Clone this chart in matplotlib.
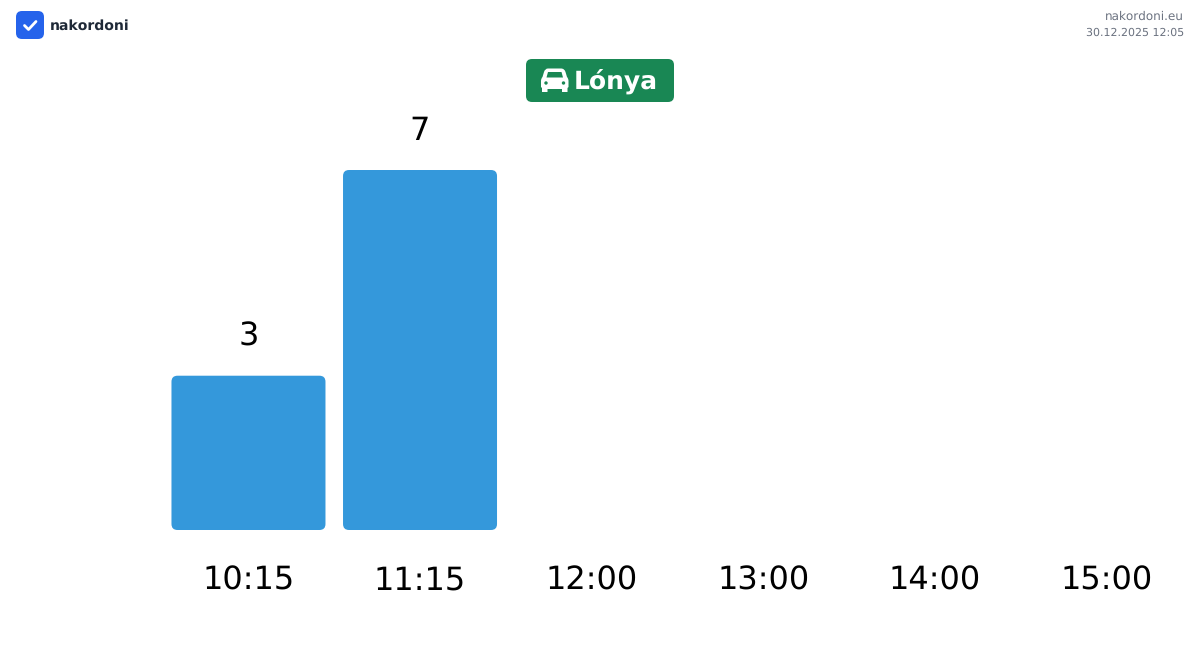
import matplotlib
matplotlib.use('Agg')
import matplotlib.pyplot as plt
from matplotlib.patches import FancyBboxPatch, PathPatch, Circle
from matplotlib.path import Path

times = ['10:15', '11:15', '12:00', '13:00', '14:00', '15:00']
counts = [3, 7, 0, 0, 0, 0]
crossing = 'Lónya'
brand = 'nakordoni'
site = 'nakordoni.eu'
stamp = '30.12.2025 12:05'

W, H = 1200, 651
BAR = '#3498db'

plt.rcParams['font.family'] = ['DejaVu Sans']
plt.rcParams['text.hinting'] = 'no_hinting'
plt.rcParams['text.hinting_factor'] = 1
fig = plt.figure(figsize=(W / 100, H / 100), dpi=100, facecolor='white')

# chart area, band for each time is about 171.7px wide
left, right, top, bottom = 162.7, 1192, 170, 530
ax = fig.add_axes([left / W, 1 - bottom / H, (right - left) / W, (bottom - top) / H])
ax.set_xlim(-0.5, len(times) - 0.5)
ax.set_ylim(0, max(counts))
ax.patch.set_alpha(0)
for s in ax.spines.values():
    s.set_visible(False)
ax.set_yticks([])
ax.set_xticks(range(len(times)), times)
ax.tick_params(axis='x', length=0, pad=43.2, labelsize=23, labelcolor='black')
for lab in ax.get_xticklabels():
    lab.set_verticalalignment('baseline')

x_px = (right - left) / len(times)
y_px = (bottom - top) / max(counts)
bar_w = 154 / x_px
for i, v in enumerate(counts):
    if v == 0:
        continue
    # rounded corners, mutation_aspect keeps the radius the same in px
    ax.add_patch(FancyBboxPatch((i - bar_w / 2, 0), bar_w, v,
                                boxstyle='round,pad=0,rounding_size=%f' % (6 / x_px),
                                mutation_aspect=x_px / y_px,
                                fc=BAR, ec='none', clip_on=False))
    ax.annotate(str(v), (i, v), xytext=(0, 30 * 0.72), textcoords='offset points',
                ha='center', va='baseline', fontsize=23, color='black', annotation_clip=False)

# header and badge drawn in pixel coordinates
ov = fig.add_axes([0, 0, 1, 1])
ov.set_xlim(0, W)
ov.set_ylim(H, 0)
ov.axis('off')
ov.patch.set_alpha(0)

ov.add_patch(FancyBboxPatch((16, 11), 28, 28, boxstyle='round,pad=0,rounding_size=6',
                            fc='#2563eb', ec='none'))
ov.plot([24.5, 28.5, 36], [25.5, 29.5, 21.5], color='white', lw=2.0,
        solid_capstyle='round', solid_joinstyle='round')
ov.text(50, 25.5, brand, fontsize=10.1, fontweight='bold', color='#1f2937', ha='left', va='center')
ov.text(1184, 17, site, fontsize=8.6, color='#6b7280', ha='right', va='center')
ov.text(1184, 33, stamp, fontsize=8.0, color='#6b7280', ha='right', va='center')

ov.add_patch(FancyBboxPatch((526, 59), 148, 43, boxstyle='round,pad=0,rounding_size=6',
                            fc='#198754', ec='none'))
ov.text(573.5, 81, crossing, fontsize=18.3, fontweight='bold', color='white', ha='left', va='center')

# car icon
car = [(Path.MOVETO, (548, 68.5)), (Path.LINETO, (561, 68.5)), (Path.CURVE3, (564.5, 68.5)), (Path.CURVE3, (565.5, 72)),
       (Path.LINETO, (567, 77)), (Path.CURVE3, (568.5, 78.5)), (Path.CURVE3, (568.5, 81)), (Path.LINETO, (568.5, 87)),
       (Path.LINETO, (567.5, 88)), (Path.LINETO, (567.5, 92)), (Path.LINETO, (562, 92)), (Path.LINETO, (562, 89)),
       (Path.LINETO, (547.5, 89)), (Path.LINETO, (547.5, 92)), (Path.LINETO, (542, 92)), (Path.LINETO, (542, 88)),
       (Path.LINETO, (541, 87)), (Path.LINETO, (541, 81)), (Path.CURVE3, (541, 78.5)), (Path.CURVE3, (542.5, 77)),
       (Path.LINETO, (544, 72)), (Path.CURVE3, (545, 68.5)), (Path.CURVE3, (548, 68.5)), (Path.CLOSEPOLY, (548, 68.5))]
codes, verts = zip(*car)
ov.add_patch(PathPatch(Path(verts, codes), fc='white', ec='none'))
ov.add_patch(PathPatch(Path([(548, 72), (561.5, 72), (563, 77.5), (546.5, 77.5), (548, 72)],
                            [Path.MOVETO, Path.LINETO, Path.LINETO, Path.LINETO, Path.CLOSEPOLY]),
                       fc='#198754', ec='none'))
ov.add_patch(Circle((546, 83), 1.7, fc='#198754', ec='none'))
ov.add_patch(Circle((563.5, 83), 1.7, fc='#198754', ec='none'))

fig.savefig('out.png', dpi=100)
